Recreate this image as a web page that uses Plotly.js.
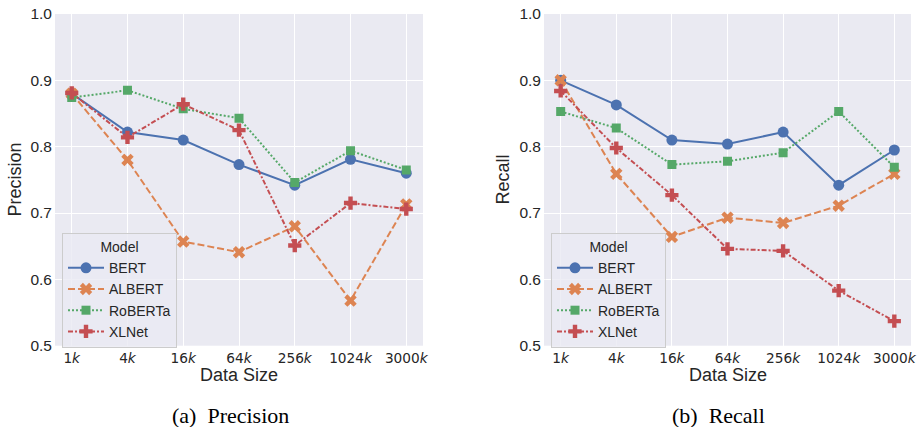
<!DOCTYPE html>
<html>
<head>
<meta charset="utf-8">
<script src="https://cdn.plot.ly/plotly-3.0.1.min.js"></script>
<style>html,body{margin:0;padding:0;background:#fff;}#chart{width:920px;height:427px;}</style>
</head>
<body>
<div id="chart"></div>
<script>
const categories = ["1k", "4k", "16k", "64k", "256k", "1024k", "3000k"];
const tickLabels = ["1<i>k</i>", "4<i>k</i>", "16<i>k</i>", "64<i>k</i>", "256<i>k</i>", "1024<i>k</i>", "3000<i>k</i>"];
const models = ["BERT", "ALBERT", "RoBERTa", "XLNet"];

const precisionBERT    = [0.880, 0.822, 0.810, 0.773, 0.742, 0.781, 0.760];
const precisionALBERT  = [0.880, 0.780, 0.657, 0.641, 0.680, 0.568, 0.713];
const precisionRoBERTa = [0.874, 0.885, 0.857, 0.843, 0.746, 0.794, 0.765];
const precisionXLNet   = [0.881, 0.814, 0.864, 0.825, 0.651, 0.715, 0.706];

const recallBERT    = [0.900, 0.863, 0.810, 0.804, 0.822, 0.742, 0.795];
const recallALBERT  = [0.900, 0.759, 0.664, 0.693, 0.685, 0.711, 0.759];
const recallRoBERTa = [0.853, 0.828, 0.773, 0.778, 0.791, 0.853, 0.769];
const recallXLNet   = [0.884, 0.798, 0.727, 0.646, 0.643, 0.583, 0.537];

const colors = ["#4C72B0", "#DD8452", "#55A868", "#C44E52"];
const dashes = ["solid", "7px,3px", "2px,2px", "5px,2px,2px,2px"];
const symbols = ["circle", "x", "square", "cross"];
const msizes = [11, 11, 9, 11];

const precisionSeries = [precisionBERT, precisionALBERT, precisionRoBERTa, precisionXLNet];
const recallSeries = [recallBERT, recallALBERT, recallRoBERTa, recallXLNet];

const traces = [];
function addTraces(series, xa, ya, leg) {
  series.forEach((vals, i) => {
    traces.push({
      x: categories, y: vals, xaxis: xa, yaxis: ya, legend: leg,
      name: models[i], type: "scatter", mode: "lines+markers",
      line: {color: colors[i], width: 2, dash: dashes[i]},
      marker: {color: colors[i], symbol: symbols[i], size: msizes[i], line: {width: 0}}
    });
  });
}
addTraces(precisionSeries, "x", "y", "legend");
addTraces(recallSeries, "x2", "y2", "legend2");

const W = 920, H = 427;
const px = v => v / W, py = v => 1 - v / H;
const xTickFont = {family: "DejaVu Sans", size: 13.7, color: "#262626"};
const yTickFont = {family: "Liberation Sans", size: 15.5, color: "#262626"};

function xax(domain, anchor) {
  return {domain: domain, type: "category", categoryorder: "array", categoryarray: categories,
    range: [-0.3, 6.3], tickvals: categories, ticktext: tickLabels, tickfont: xTickFont,
    showgrid: true, gridcolor: "#ffffff", gridwidth: 1, zeroline: false, showline: false,
    ticks: "", ticklabelstandoff: 3, anchor: anchor};
}
function yax(anchor) {
  return {domain: [py(345.7), py(14)], range: [0.5, 1.0], dtick: 0.1, tickformat: ".1f",
    tickfont: yTickFont, showgrid: true, gridcolor: "#ffffff", gridwidth: 1,
    zeroline: false, showline: false, ticks: "", ticklabelstandoff: 2, anchor: anchor};
}

const legendBase = {
  bgcolor: "rgba(234,234,242,0.8)", bordercolor: "#cccccc", borderwidth: 1,
  font: {family: "Liberation Sans", size: 14, color: "#262626"},
  title: {text: "Model", side: "top center", font: {family: "Liberation Sans", size: 14, color: "#262626"}},
  xanchor: "left", yanchor: "top", tracegroupgap: 0, itemwidth: 36
};

const annFont = {family: "Liberation Sans", size: 18, color: "#262626"};
const capFont = {family: "Liberation Serif", size: 22, color: "#000000"};

const layout = {
  width: W, height: H, margin: {l: 0, r: 0, t: 0, b: 0},
  paper_bgcolor: "#ffffff", plot_bgcolor: "#EAEAF2",
  showlegend: true,
  xaxis: xax([px(55), px(423)], "y"), yaxis: yax("x"),
  xaxis2: xax([px(544), px(911)], "y2"), yaxis2: yax("x2"),
  legend: Object.assign({}, legendBase, {x: px(62), y: py(233)}),
  legend2: Object.assign({}, legendBase, {x: px(551), y: py(233)}),
  annotations: [
    {text: "Precision", x: px(14.5), y: py(180), xref: "paper", yref: "paper", textangle: -90, showarrow: false, xanchor: "center", yanchor: "middle", font: annFont},
    {text: "Recall", x: px(502.5), y: py(180), xref: "paper", yref: "paper", textangle: -90, showarrow: false, xanchor: "center", yanchor: "middle", font: annFont},
    {text: "Data Size", x: px(239), y: py(375), xref: "paper", yref: "paper", showarrow: false, xanchor: "center", yanchor: "middle", font: annFont},
    {text: "Data Size", x: px(727.5), y: py(375), xref: "paper", yref: "paper", showarrow: false, xanchor: "center", yanchor: "middle", font: annFont},
    {text: "(a)&nbsp;&nbsp;Precision", x: px(230), y: py(415), xref: "paper", yref: "paper", showarrow: false, xanchor: "center", yanchor: "middle", font: capFont},
    {text: "(b)&nbsp;&nbsp;Recall", x: px(718), y: py(415), xref: "paper", yref: "paper", showarrow: false, xanchor: "center", yanchor: "middle", font: capFont}
  ]
};

Plotly.newPlot("chart", traces, layout, {displayModeBar: false, staticPlot: true});
</script>
</body>
</html>
